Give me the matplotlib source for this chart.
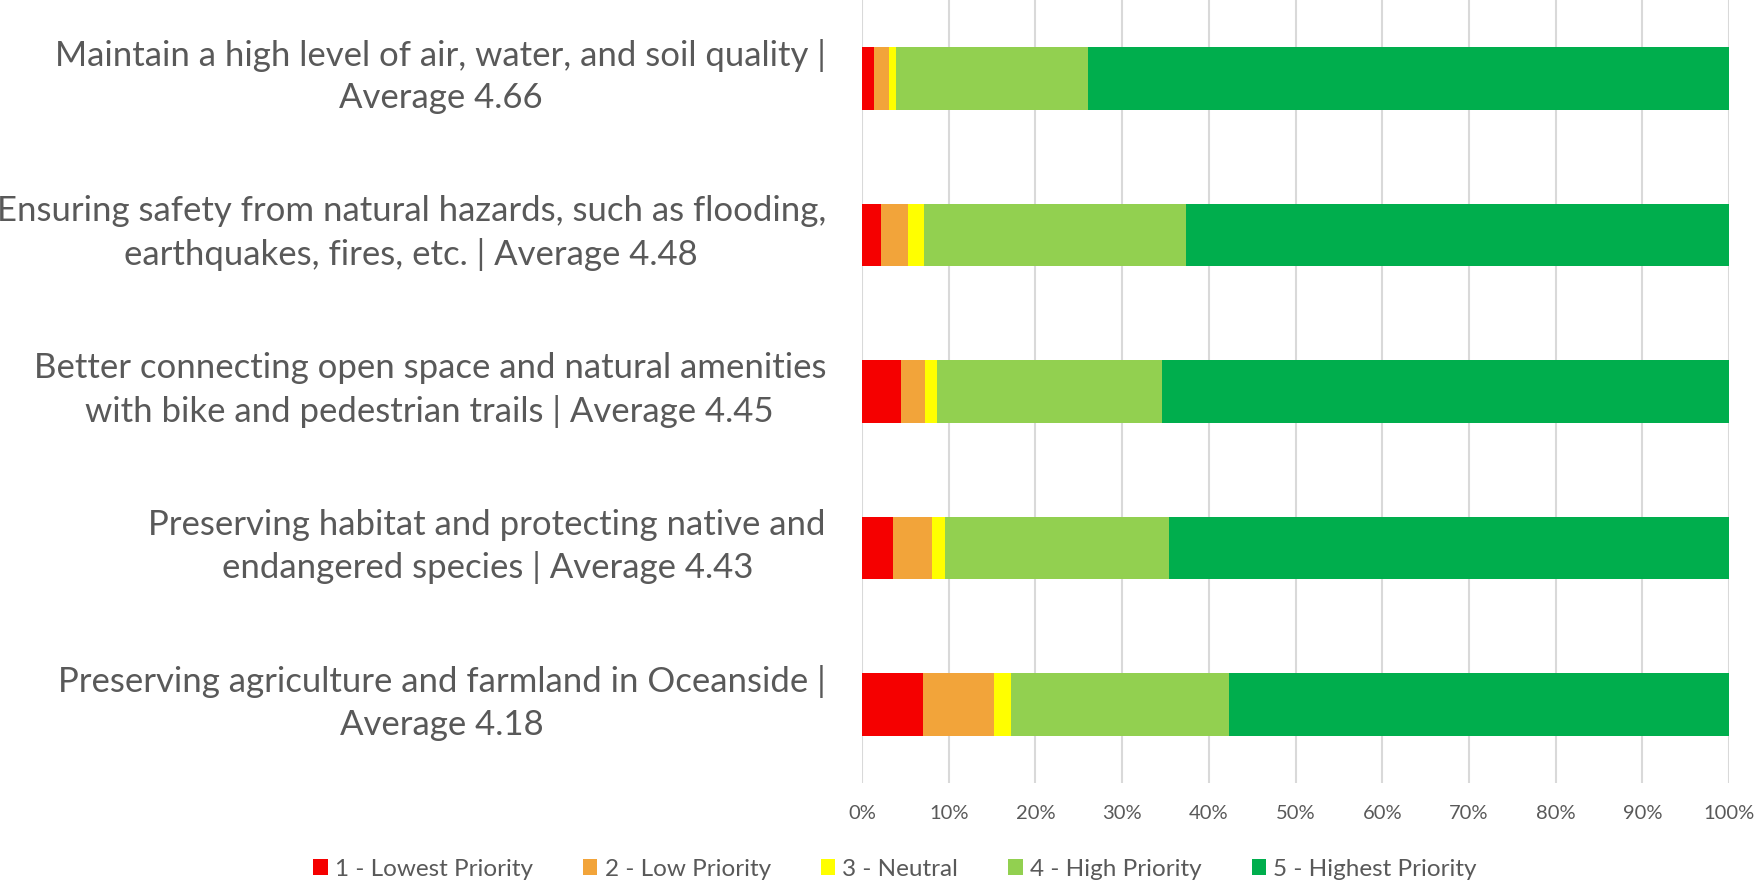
import matplotlib
matplotlib.use("Agg")
import matplotlib.pyplot as plt
import matplotlib.transforms as mtransforms
from matplotlib.ticker import PercentFormatter

# category labels, top to bottom
labels = [
    "Maintain a high level of air, water, and soil quality |\nAverage 4.66",
    "Ensuring safety from natural hazards, such as flooding,\nearthquakes, fires, etc. | Average 4.48",
    "Better connecting open space and natural amenities\nwith bike and pedestrian trails | Average 4.45",
    "Preserving habitat and protecting native and\nendangered species | Average 4.43",
    "Preserving agriculture and farmland in Oceanside |\nAverage 4.18",
]

series_names = ["1 - Lowest Priority", "2 - Low Priority", "3 - Neutral",
                "4 - High Priority", "5 - Highest Priority"]

# shares (%) per priority level, one value per category
lowest = [1.4, 2.2, 4.5, 3.6, 7.0]
low = [1.7, 3.1, 2.8, 4.5, 8.2]
neutral = [0.8, 1.9, 1.4, 1.5, 2.0]
high = [22.2, 30.2, 25.9, 25.8, 25.1]
highest = [73.9, 62.6, 65.4, 64.6, 57.7]

colors = ["#F50000", "#F2A43A", "#FFFF00", "#92D050", "#00AE4D"]

plt.rcParams["font.family"] = ["Lato", "DejaVu Sans"]
text_color = "#595959"

fig = plt.figure(figsize=(17.55, 8.82), dpi=100)
ax = fig.add_axes([862 / 1755, 1 - 783 / 882, 867 / 1755, 783 / 882])

ypos = list(range(len(labels)))
left = [0.0] * len(labels)
for name, vals, c in zip(series_names, [lowest, low, neutral, high, highest], colors):
    ax.barh(ypos, vals, left=left, height=0.4, color=c, label=name, zorder=3)
    left = [l + v for l, v in zip(left, vals)]

ax.set_xlim(0, 100)
ax.set_ylim(len(labels) - 0.5, -0.5)
ax.set_xticks(range(0, 101, 10))
ax.xaxis.set_major_formatter(PercentFormatter(decimals=0))
ax.tick_params(axis="x", length=0, pad=16, labelsize=14.5, labelcolor=text_color)
ax.set_yticks([])
ax.grid(axis="x", color="#D9D9D9", linewidth=1.5, zorder=0)
for s in ax.spines.values():
    s.set_visible(False)

# wrapped category labels, right edge just left of the plot
trans = mtransforms.blended_transform_factory(fig.transFigure, ax.transData)
for y, lab in zip(ypos, labels):
    ax.text(826 / 1755, y - 0.01, lab, transform=trans, ha="right", va="center",
            multialignment="center", fontsize=25, color=text_color,
            linespacing=1.4)

leg = fig.legend(loc="center", bbox_to_anchor=(895 / 1755, 1 - 869 / 882), ncol=5,
                 frameon=False, fontsize=17.5, handlelength=0.6, handleheight=0.6,
                 handletextpad=0.3, columnspacing=2.05, labelcolor=text_color)

fig.savefig("out.png", dpi=100)
